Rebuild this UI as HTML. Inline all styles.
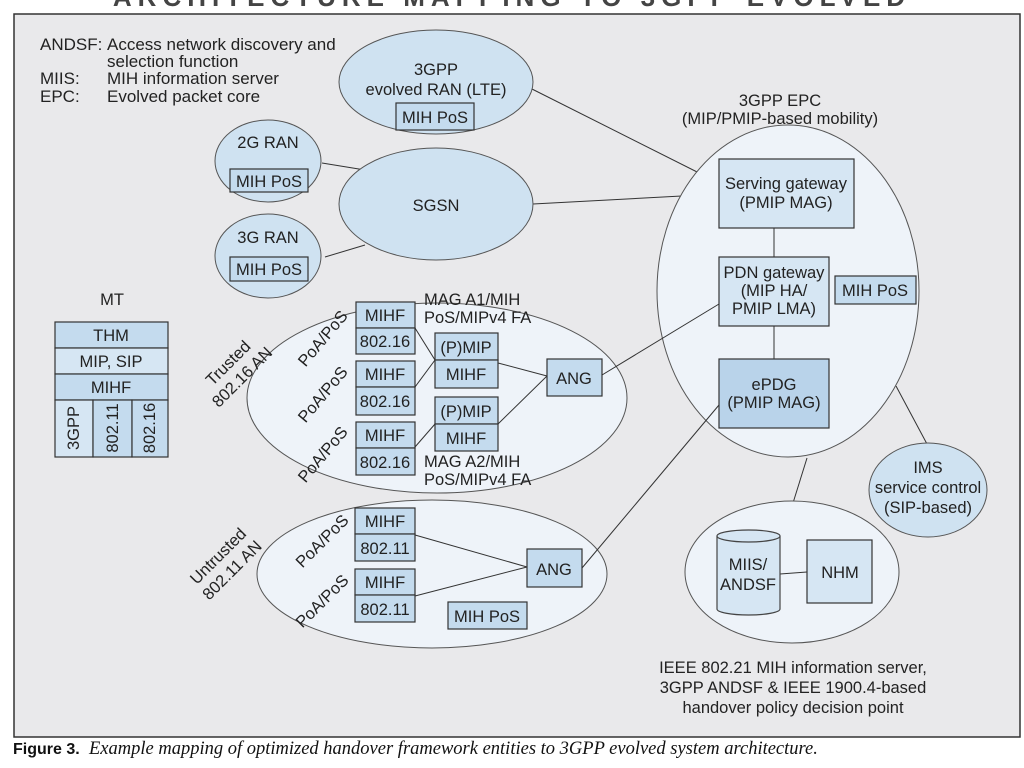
<!DOCTYPE html>
<html><head><meta charset="utf-8"><style>
html,body{margin:0;padding:0;background:#fff;width:1024px;height:768px;overflow:hidden}
svg{display:block}
text{font-family:"Liberation Sans",sans-serif;font-size:16.5px;fill:#222}
.c{text-anchor:middle}
</style></head><body>
<svg width="1024" height="768" viewBox="0 0 1024 768">
<text x="512" y="6" class="c" style="font-size:26px;font-weight:bold;fill:#444;letter-spacing:6px">ARCHITECTURE MAPPING TO 3GPP EVOLVED</text>
<rect x="14" y="14" width="1006" height="723" fill="#e9e9eb" stroke="#333" stroke-width="1.5"/>
<g stroke="#333" stroke-width="1" fill="none">
<line x1="530" y1="88" x2="719" y2="183"/>
<line x1="533" y1="204" x2="719" y2="194"/>
<line x1="322" y1="163" x2="365" y2="170"/>
<line x1="325" y1="257" x2="365" y2="245"/>
<line x1="896" y1="386" x2="927" y2="444"/>
<line x1="807" y1="458" x2="793" y2="503"/>
</g>
<g stroke="#555" stroke-width="1">
<ellipse cx="436" cy="82" rx="97" ry="52" fill="#cfe2f1"/>
<ellipse cx="268" cy="161" rx="53" ry="41" fill="#cfe2f1"/>
<ellipse cx="268" cy="256" rx="53" ry="42" fill="#cfe2f1"/>
<ellipse cx="436" cy="204" rx="97" ry="56" fill="#cfe2f1"/>
<ellipse cx="788" cy="291" rx="131" ry="166" fill="#eef3f9"/>
<ellipse cx="928" cy="490" rx="59" ry="47" fill="#cfe2f1"/>
<ellipse cx="792" cy="572" rx="107" ry="71" fill="#eef3f9"/>
<ellipse cx="437" cy="398" rx="190" ry="95" fill="#eef3f9"/>
<ellipse cx="432" cy="574" rx="175" ry="74" fill="#eef3f9"/>
</g>
<g stroke="#333" stroke-width="1" fill="none">
<line x1="774" y1="228" x2="774" y2="257"/>
<line x1="774" y1="326" x2="774" y2="359"/>
<line x1="602" y1="375" x2="719" y2="304"/>
<line x1="582" y1="568" x2="719" y2="405"/>
<line x1="415" y1="328" x2="435" y2="360"/>
<line x1="415" y1="387" x2="435" y2="360"/>
<line x1="415" y1="447" x2="435" y2="424"/>
<line x1="498" y1="363" x2="547" y2="376"/>
<line x1="498" y1="424" x2="547" y2="376"/>
<line x1="415" y1="535" x2="527" y2="567"/>
<line x1="415" y1="596" x2="527" y2="567"/>
<line x1="780" y1="574" x2="807" y2="572"/>
</g>
<g stroke="#333" stroke-width="1.2">
<rect x="396" y="103" width="78" height="27" fill="#c4dbee"/>
<rect x="230" y="169" width="78" height="23" fill="#c4dbee"/>
<rect x="230" y="257" width="78" height="24" fill="#c4dbee"/>
<rect x="719" y="159" width="135" height="69" fill="#d6e6f3"/>
<rect x="719" y="257" width="110" height="69" fill="#d6e6f3"/>
<rect x="835" y="276" width="81" height="28" fill="#c4dbee"/>
<rect x="719" y="359" width="110" height="69" fill="#b9d3ea"/>
<rect x="807" y="540" width="65" height="63" fill="#d6e6f3"/>
<rect x="356" y="302" width="59" height="26" fill="#c4dbee"/><rect x="356" y="328" width="59" height="26" fill="#c4dbee"/>
<rect x="356" y="361" width="59" height="26" fill="#c4dbee"/><rect x="356" y="387" width="59" height="28" fill="#c4dbee"/>
<rect x="356" y="422" width="59" height="26" fill="#c4dbee"/><rect x="356" y="448" width="59" height="27" fill="#c4dbee"/>
<rect x="435" y="333" width="63" height="27" fill="#c4dbee"/><rect x="435" y="360" width="63" height="28" fill="#c4dbee"/>
<rect x="435" y="397" width="63" height="27" fill="#c4dbee"/><rect x="435" y="424" width="63" height="27" fill="#c4dbee"/>
<rect x="547" y="359" width="55" height="37" fill="#c4dbee"/>
<rect x="355" y="508" width="60" height="26" fill="#c4dbee"/><rect x="355" y="534" width="60" height="27" fill="#c4dbee"/>
<rect x="355" y="569" width="60" height="26" fill="#c4dbee"/><rect x="355" y="595" width="60" height="27" fill="#c4dbee"/>
<rect x="527" y="549" width="55" height="38" fill="#c4dbee"/>
<rect x="448" y="602" width="79" height="27" fill="#c4dbee"/>
<rect x="55" y="322" width="113" height="26" fill="#c4dbee"/>
<rect x="55" y="348" width="113" height="26" fill="#d6e6f3"/>
<rect x="55" y="374" width="113" height="26" fill="#c4dbee"/>
<rect x="55" y="400" width="38" height="57" fill="#d6e6f3"/>
<rect x="93" y="400" width="39" height="57" fill="#c4dbee"/>
<rect x="132" y="400" width="36" height="57" fill="#c4dbee"/>
</g>
<g stroke="#444" stroke-width="1.2" fill="#d6e6f3">
<path d="M717,536 L717,609 A31.5,6 0 0 0 780,609 L780,536"/>
<ellipse cx="748.5" cy="536" rx="31.5" ry="6"/>
</g>
<g style="font-size:17px">
<text x="40" y="50" style="font-size:17px">ANDSF:</text><text x="107" y="50" style="font-size:17px">Access network discovery and</text>
<text x="107" y="67" style="font-size:17px">selection function</text>
<text x="40" y="84" style="font-size:17px">MIIS:</text><text x="107" y="84" style="font-size:17px">MIH information server</text>
<text x="40" y="102" style="font-size:17px">EPC:</text><text x="107" y="102" style="font-size:17px">Evolved packet core</text>
</g>
<text x="436" y="75" class="c">3GPP</text>
<text x="436" y="95" class="c">evolved RAN (LTE)</text>
<text x="435" y="123" class="c">MIH PoS</text>
<text x="268" y="148" class="c">2G RAN</text>
<text x="269" y="187" class="c">MIH PoS</text>
<text x="268" y="243" class="c">3G RAN</text>
<text x="269" y="275" class="c">MIH PoS</text>
<text x="436" y="211" class="c">SGSN</text>
<text x="780" y="106" class="c">3GPP EPC</text>
<text x="780" y="124" class="c">(MIP/PMIP-based mobility)</text>
<text x="786" y="189" class="c">Serving gateway</text>
<text x="786" y="208" class="c">(PMIP MAG)</text>
<text x="774" y="278" class="c">PDN gateway</text>
<text x="774" y="296" class="c">(MIP HA/</text>
<text x="774" y="314" class="c">PMIP LMA)</text>
<text x="875" y="296" class="c">MIH PoS</text>
<text x="774" y="390" class="c">ePDG</text>
<text x="774" y="408" class="c">(PMIP MAG)</text>
<text x="928" y="473" class="c">IMS</text>
<text x="928" y="493" class="c">service control</text>
<text x="928" y="513" class="c">(SIP-based)</text>
<text x="748" y="570" class="c">MIIS/</text>
<text x="748" y="590" class="c">ANDSF</text>
<text x="840" y="578" class="c">NHM</text>
<text x="793" y="673" class="c">IEEE 802.21 MIH information server,</text>
<text x="793" y="693" class="c">3GPP ANDSF &amp; IEEE 1900.4-based</text>
<text x="793" y="713" class="c">handover policy decision point</text>
<text x="112" y="305" class="c">MT</text>
<text x="111" y="341" class="c">THM</text>
<text x="111" y="367" class="c">MIP, SIP</text>
<text x="111" y="393" class="c">MIHF</text>
<text transform="translate(79,428) rotate(-90)" class="c">3GPP</text>
<text transform="translate(118,428) rotate(-90)" class="c">802.11</text>
<text transform="translate(155,428) rotate(-90)" class="c">802.16</text>
<text x="385" y="321" class="c">MIHF</text><text x="385" y="347" class="c">802.16</text>
<text x="385" y="380" class="c">MIHF</text><text x="385" y="407" class="c">802.16</text>
<text x="385" y="441" class="c">MIHF</text><text x="385" y="468" class="c">802.16</text>
<text x="466" y="353" class="c">(P)MIP</text><text x="466" y="380" class="c">MIHF</text>
<text x="466" y="417" class="c">(P)MIP</text><text x="466" y="444" class="c">MIHF</text>
<text x="574" y="384" class="c">ANG</text>
<text x="424" y="305">MAG A1/MIH</text><text x="424" y="323">PoS/MIPv4 FA</text>
<text x="424" y="467">MAG A2/MIH</text><text x="424" y="485">PoS/MIPv4 FA</text>
<text transform="translate(327,342) rotate(-50)" class="c">PoA/PoS</text>
<text transform="translate(327,398) rotate(-50)" class="c">PoA/PoS</text>
<text transform="translate(327,458) rotate(-50)" class="c">PoA/PoS</text>
<text transform="translate(232,367) rotate(-45)" class="c">Trusted</text>
<text transform="translate(246,381) rotate(-45)" class="c">802.16 AN</text>
<text x="385" y="527" class="c">MIHF</text><text x="385" y="554" class="c">802.11</text>
<text x="385" y="588" class="c">MIHF</text><text x="385" y="615" class="c">802.11</text>
<text x="554" y="575" class="c">ANG</text>
<text x="487" y="622" class="c">MIH PoS</text>
<text transform="translate(326,545) rotate(-45)" class="c">PoA/PoS</text>
<text transform="translate(326,605) rotate(-45)" class="c">PoA/PoS</text>
<text transform="translate(222,560) rotate(-45)" class="c">Untrusted</text>
<text transform="translate(236,574) rotate(-45)" class="c">802.11 AN</text>
<text x="13" y="754" style="font-size:16px;font-weight:bold;fill:#111">Figure 3.</text>
<text x="89" y="754" style="font-family:'Liberation Serif',serif;font-style:italic;font-size:18.5px;fill:#111">Example mapping of optimized handover framework entities to 3GPP evolved system architecture.</text>
</svg>
</body></html>
